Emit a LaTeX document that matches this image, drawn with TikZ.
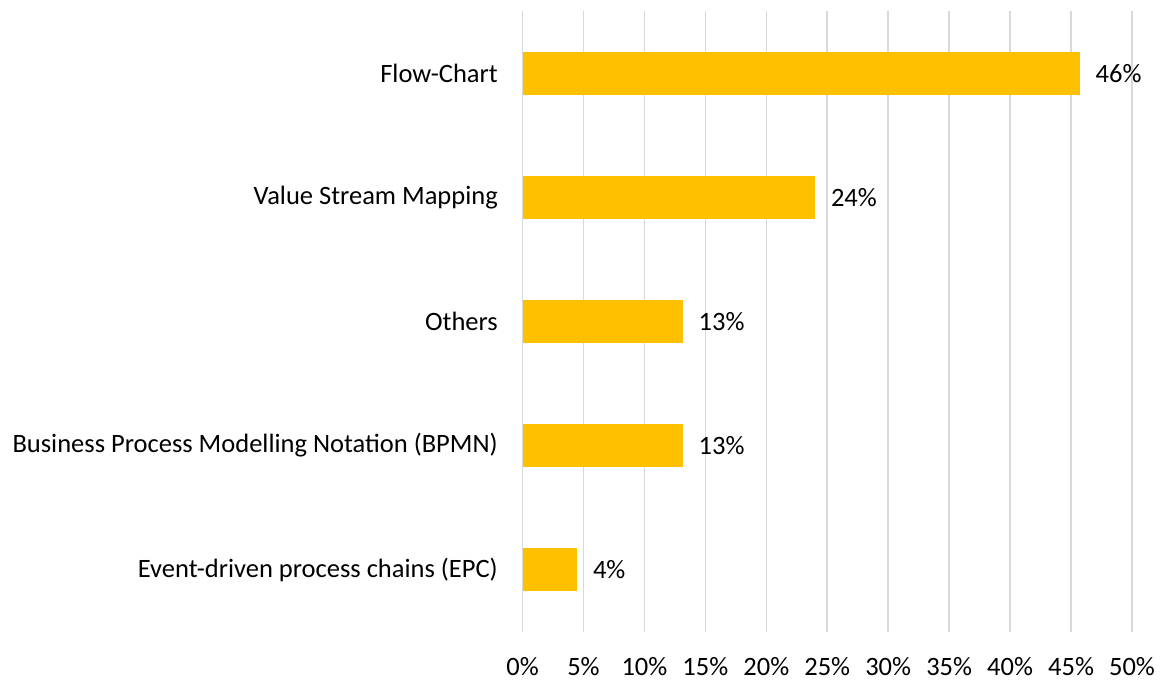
\documentclass[tikz,border=0pt]{standalone}
\usepackage{fontspec}
\setmainfont{Carlito}
\usepackage{tikz}
\usetikzlibrary{positioning}
\definecolor{baryellow}{RGB}{255, 192, 0}
\definecolor{gridgray}{RGB}{217, 217, 217}
\tikzset{
    gridline/.style = {draw=gridgray, line width=1.6pt},
    bar/.style = {fill=baryellow},
    catlabel/.style = {anchor=east, inner sep=0pt, text=black},
    vallabel/.style = {anchor=west, inner sep=0pt, text=black},
    ticklabel/.style = {anchor=center, inner sep=0pt, text=black},
}

\begin{document}
\begin{tikzpicture}[
        x=1pt,
        y=-1pt,
        font=\fontsize{26.5}{31}\selectfont
      ]
        \useasboundingbox (0,0) rectangle (1163,682);

        % axis: 0% at 522.5, one step of 5% is 60.95
        \foreach \i in {0,...,10} {
          \coordinate (g\i) at ({522.5+60.95*\i},11);
          \draw[gridline] (g\i) -- ++(0,621);
          \pgfmathtruncatemacro{\pct}{5*\i}
          \node[ticklabel] (tick\i) at ({522.5+60.95*\i},667) {\pct\%};
        }

        % bars: label / value / length in px
        \foreach \name/\val/\len [count=\k from 0] in {
            Flow-Chart/46/556.5,
            Value Stream Mapping/24/291.8,
            Others/13/159.5,
            Business Process Modelling Notation (BPMN)/13/159.5,
            Event-driven process chains (EPC)/4/53.8} {
          \coordinate (base\k) at (523,{73.5+124*\k});
          \fill[bar] ([yshift=21.75pt]base\k) rectangle ++(\len,43.5);
          \coordinate (end\k) at ({523+\len},{73.5+124*\k});
          \node[catlabel, left=25pt of base\k, anchor=east] (cat\k) {\name};
          \node[vallabel, right=16pt of end\k, anchor=west] (val\k) {\val\%};
        }
      \end{tikzpicture}
\end{document}
